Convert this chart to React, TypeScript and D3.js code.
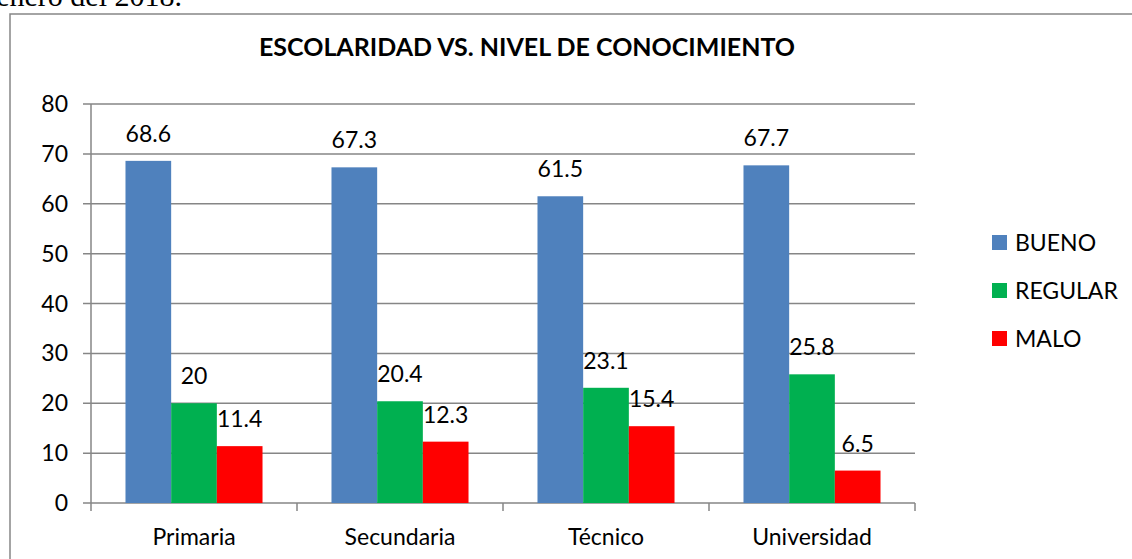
import React from 'react';
import * as d3 from 'd3';

// chart data
const categories = ['Primaria', 'Secundaria', 'Técnico', 'Universidad'];
const seriesNames = ['BUENO', 'REGULAR', 'MALO'];
const bueno = [68.6, 67.3, 61.5, 67.7];
const regular = [20, 20.4, 23.1, 25.8];
const malo = [11.4, 12.3, 15.4, 6.5];
const yTicks = [0, 10, 20, 30, 40, 50, 60, 70, 80];
const colors = ['#4F81BD', '#00B050', '#FF0000'];

const width = 1132, height = 559;
const plot = { left: 91, right: 915, top: 104, bottom: 503 };
const font = 'Lato, "Open Sans", sans-serif';

export default function App() {
    const values = [bueno, regular, malo];

    // outer band per category, inner band per series
    const x0 = d3.scaleBand().domain(categories).range([plot.left, plot.right]);
    const x1 = d3.scaleBand().domain(seriesNames)
        .range([0, x0.bandwidth()]).paddingOuter(0.755);
    const y = d3.scaleLinear().domain([0, 80]).range([plot.bottom, plot.top]);

    const grid = '#868686';

    return (
        <svg width={width} height={height} style={{ position: 'absolute', left: 0, top: 0 }}
            fontFamily={font}>
            {/* bit of page text cut off above the chart */}
            <text x={182} y={6} textAnchor="end" fontFamily='"Liberation Serif", serif'
                fontSize={30} fill="#000">enero del 2018.</text>

            {/* chart frame */}
            <rect x={10} y={14} width={1200} height={700} fill="#fff" stroke={grid} strokeWidth={1.5} />

            <text x={527} y={56} textAnchor="middle" fontWeight="bold" fontSize={25} fill="#000">
                ESCOLARIDAD VS. NIVEL DE CONOCIMIENTO
            </text>

            {/* gridlines and y ticks */}
            {yTicks.map(t => (
                <g key={t}>
                    <line x1={plot.left - 8} x2={plot.right} y1={y(t)} y2={y(t)}
                        stroke={grid} strokeWidth={1.5} />
                    <text x={68} y={y(t)} dy="0.35em" textAnchor="end" fontSize={23} fill="#000">{t}</text>
                </g>
            ))}
            <line x1={plot.left} x2={plot.left} y1={plot.top} y2={plot.bottom} stroke={grid} strokeWidth={1.5} />

            {/* x axis ticks at category boundaries */}
            {categories.map(c => (
                <line key={c} x1={x0(c)!} x2={x0(c)!} y1={plot.bottom} y2={plot.bottom + 8}
                    stroke={grid} strokeWidth={1.5} />
            ))}
            <line x1={plot.right} x2={plot.right} y1={plot.bottom} y2={plot.bottom + 8}
                stroke={grid} strokeWidth={1.5} />

            {/* bars and value labels */}
            {categories.map((c, i) => (
                <g key={c} transform={`translate(${x0(c)},0)`}>
                    {seriesNames.map((s, j) => {
                        const v = values[j][i];
                        return (
                            <g key={s}>
                                <rect x={x1(s)!} y={y(v)} width={x1.bandwidth()} height={plot.bottom - y(v)}
                                    fill={colors[j]} />
                                <text x={x1(s)! + x1.bandwidth() / 2} y={y(v) - 19} textAnchor="middle"
                                    fontSize={23} fill="#000">{v}</text>
                            </g>
                        );
                    })}
                    <text x={x0.bandwidth() / 2} y={545} textAnchor="middle" fontSize={23} fill="#000">{c}</text>
                </g>
            ))}

            {/* legend */}
            {seriesNames.map((s, j) => (
                <g key={s} transform={`translate(992,${235 + j * 48})`}>
                    <rect width={15} height={15} fill={colors[j]} />
                    <text x={23} y={7.5} dy="0.35em" fontSize={23} fill="#000">{s}</text>
                </g>
            ))}
        </svg>
    );
}
